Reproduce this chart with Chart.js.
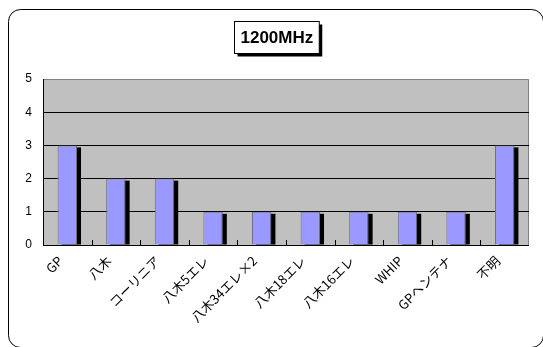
<!DOCTYPE html>
<html>
<head>
<meta charset="utf-8">
<script src="https://cdn.jsdelivr.net/npm/chart.js@4/dist/chart.umd.min.js"></script>
<style>
  html, body { margin: 0; padding: 0; background: #fff; }
  #wrap { width: 543px; height: 347px; }
</style>
</head>
<body>
<div id="wrap"><canvas id="antennaChart" width="543" height="347"></canvas></div>
<script>
// 1200MHz アンテナ種別の集計
const categories = ['GP', '八木', 'コーリニア', '八木5エレ', '八木34エレ×2', '八木18エレ', '八木16エレ', 'WHIP', 'GPヘンテナ', '不明'];
const counts = [3, 2, 2, 1, 1, 1, 1, 1, 1, 3];
const yTicks = [0, 1, 2, 3, 4, 5];
const titleText = '1200MHz';

const jpFont = '"Noto Sans CJK JP", "DejaVu Sans", sans-serif';

// 外枠・プロットエリア背景・タイトル枠
const frame = {
    id: 'frame',
    beforeDraw(chart) {
        const { ctx, chartArea: a } = chart;
        ctx.save();
        ctx.fillStyle = '#fff';
        ctx.fillRect(0, 0, chart.width, chart.height);
        ctx.beginPath();
        ctx.roundRect(8.5, 9.5, 535, 338, 12);
        ctx.strokeStyle = '#000';
        ctx.lineWidth = 1;
        ctx.stroke();
        ctx.fillStyle = '#c0c0c0';
        ctx.fillRect(a.left, a.top, a.right - a.left, a.bottom - a.top);
        ctx.strokeStyle = '#808080';
        ctx.beginPath();
        ctx.moveTo(a.left, a.top + 0.5);
        ctx.lineTo(a.right - 0.5, a.top + 0.5);
        ctx.lineTo(a.right - 0.5, a.bottom);
        ctx.stroke();

        // タイトル
        ctx.font = 'bold 17px "Liberation Sans", Arial, sans-serif';
        const tw = ctx.measureText(titleText).width;
        const bw = tw + 12, bh = 32;
        const bx = Math.round(276 - bw / 2) + 0.5, by = 21.5;
        ctx.fillStyle = '#000';
        ctx.fillRect(bx + 3, by + 3, bw, bh);
        ctx.fillStyle = '#fff';
        ctx.fillRect(bx, by, bw, bh);
        ctx.strokeStyle = '#000';
        ctx.strokeRect(bx, by, bw, bh);
        ctx.fillStyle = '#000';
        ctx.textAlign = 'center';
        ctx.textBaseline = 'middle';
        ctx.fillText(titleText, bx + bw / 2, by + bh / 2 + 1);
        ctx.restore();
    }
};

// 棒の影と目盛り線
const barShadow = {
    id: 'barShadow',
    beforeDatasetsDraw(chart) {
        const { ctx } = chart;
        const meta = chart.getDatasetMeta(0);
        ctx.save();
        ctx.fillStyle = '#000';
        meta.data.forEach(bar => {
            const w = bar.width;
            ctx.fillRect(bar.x - w / 2 + 4, bar.y + 2, w, bar.base - bar.y - 2);
        });
        ctx.restore();
    },
    afterDatasetsDraw(chart) {
        const { ctx } = chart;
        const x = chart.scales.x;
        const base = chart.chartArea.bottom;
        ctx.save();
        ctx.strokeStyle = '#000';
        ctx.lineWidth = 1;
        ctx.beginPath();
        for (let i = 1; i < categories.length; i++) {
            const px = Math.round((x.getPixelForTick(i - 1) + x.getPixelForTick(i)) / 2) + 0.5;
            ctx.moveTo(px, base);
            ctx.lineTo(px, base - 5);
        }
        ctx.moveTo(chart.chartArea.left, base + 0.5);
        ctx.lineTo(chart.chartArea.right, base + 0.5);
        ctx.stroke();
        ctx.restore();
    }
};

new Chart(document.getElementById('antennaChart'), {
    type: 'bar',
    data: {
        labels: categories,
        datasets: [{
            data: counts,
            backgroundColor: '#9999ff',
            borderColor: '#707070',
            borderWidth: 1,
            barPercentage: 0.4,
            categoryPercentage: 1
        }]
    },
    options: {
        responsive: false,
        animation: false,
        events: [],
        layout: { padding: { top: 79, left: 15, right: 14, bottom: 0 } },
        plugins: {
            legend: { display: false },
            title: { display: false },
            tooltip: { enabled: false }
        },
        scales: {
            x: {
                grid: { display: false },
                border: { display: false },
                ticks: {
                    color: '#000',
                    font: { family: jpFont, size: 13 },
                    maxRotation: 45,
                    minRotation: 45,
                    autoSkip: false,
                    padding: 0,
                    labelOffset: -7
                },
                afterFit: s => { s.height = 102; }
            },
            y: {
                min: 0,
                max: 5,
                afterBuildTicks: s => { s.ticks = yTicks.map(v => ({ value: v })); },
                grid: {
                    color: ctx => (ctx.tick && ctx.tick.value === 5) ? 'rgba(0,0,0,0)' : '#000',
                    drawTicks: false
                },
                border: { color: '#000' },
                ticks: {
                    color: '#000',
                    font: { family: '"Liberation Sans", Arial, sans-serif', size: 12 },
                    padding: 11
                },
                afterFit: s => { s.width = 28; }
            }
        }
    },
    plugins: [frame, barShadow]
});
</script>
</body>
</html>
